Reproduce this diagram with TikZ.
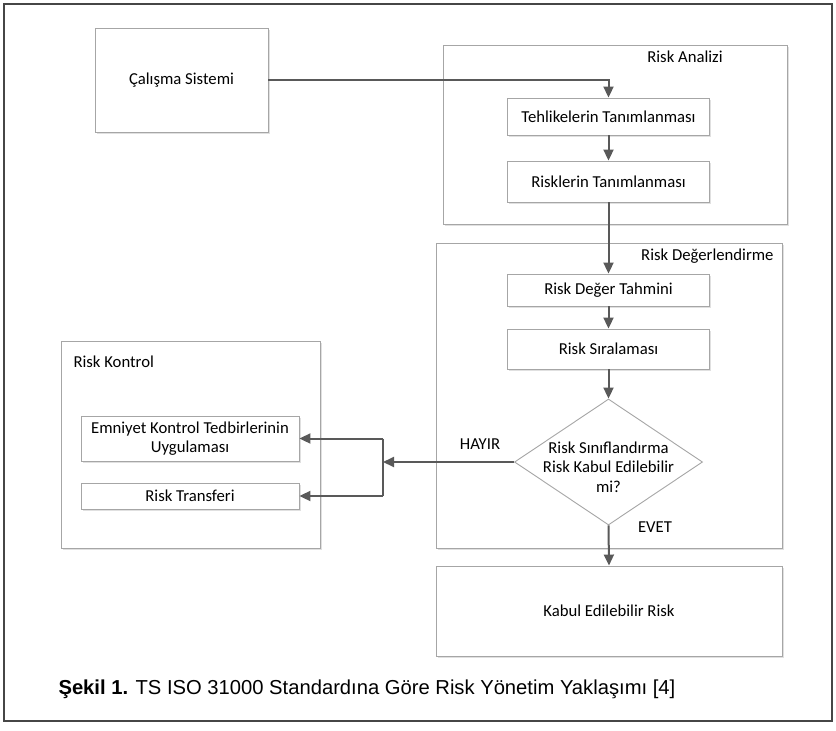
\documentclass[tikz,border=0pt]{standalone}
\usepackage{fontspec}
\setmainfont{Carlito}
\newfontfamily\capfont{Liberation Sans}
\usetikzlibrary{arrows.meta,shapes.geometric,shadows}
\definecolor{boxgray}{RGB}{166,166,166}
\definecolor{arrowgray}{RGB}{89,89,89}
\definecolor{framegray}{RGB}{70,70,70}
\begin{document}
\begin{tikzpicture}[x=1pt,y=-1pt,
  txt/.style={font=\fontsize{16.7}{19.5}\selectfont, text=black},
  box/.style={draw=boxgray, line width=0.9pt, fill=white, inner sep=0pt, txt,
    drop shadow={shadow xshift=1.5pt, shadow yshift=-1.5pt, fill=black, opacity=0.12}},
  cont/.style={draw=boxgray, line width=0.9pt, fill=white, inner sep=0pt,
    drop shadow={shadow xshift=1.5pt, shadow yshift=-1.5pt, fill=black, opacity=0.12}},
  arr/.style={draw=arrowgray, line width=2pt, -{Triangle[length=11pt,width=10pt]}},
  ln/.style={draw=arrowgray, line width=2pt}]
\useasboundingbox (0,0) rectangle (836,731);
\draw[framegray, line width=1.3pt] (4,4) rectangle (832,721);

% containers
\node[cont, minimum width=344pt, minimum height=179pt] (ra) at (615,134.5) {};
\node[txt] (ralabel) at (685,57) {Risk Analizi};
\node[cont, minimum width=346pt, minimum height=305pt] (rd) at (609,395.5) {};
\node[txt, anchor=east] (rdlabel) at (777,256) {Risk Değerlendirme};
\node[cont, minimum width=259pt, minimum height=207pt] (rk) at (190.5,444.5) {};
\node[txt, anchor=west] (rklabel) at (70,362) {Risk Kontrol};

% boxes
\node[box, minimum width=173pt, minimum height=104pt] (cs) at (181.5,80) {Çalışma Sistemi};
\node[box, minimum width=202pt, minimum height=37pt] (th) at (608.5,116.5) {Tehlikelerin Tanımlanması};
\node[box, minimum width=202pt, minimum height=41pt] (rt) at (608.5,181.5) {Risklerin Tanımlanması};
\node[box, minimum width=202pt, minimum height=32pt] (rdt) at (608.5,290) {Risk Değer Tahmini};
\node[box, minimum width=202pt, minimum height=40pt] (rs) at (608.5,349) {Risk Sıralaması};
\node[draw=boxgray, line width=0.9pt, fill=white, shape=diamond, inner sep=0pt,
  minimum width=188pt, minimum height=126pt] (dm) at (608.5,462) {};
\node[txt, align=center] (dmtext) at (608.5,467) {Risk Sınıflandırma\\Risk Kabul Edilebilir\\mi?};
\node[box, minimum width=218pt, minimum height=45pt, align=center] (em) at (190,438.5) {Emniyet Kontrol Tedbirlerinin\\Uygulaması};
\node[box, minimum width=218pt, minimum height=26pt] (tr) at (190,496) {Risk Transferi};
\node[box, minimum width=346pt, minimum height=90pt] (kb) at (609,611) {Kabul Edilebilir Risk};

% labels
\node[txt] (hayir) at (480,444) {HAYIR};
\node[txt] (evet) at (655,527) {EVET};

% connectors
\coordinate (j) at (383,462);
\coordinate (jt) at (383,438.5);
\coordinate (jb) at (383,496);
\draw[arr] (cs.east) -| (th.north);
\draw[arr] (th.south) -- (rt.north);
\draw[arr] (rt.south) -- (rdt.north);
\draw[arr] (rdt.south) -- (rs.north);
\draw[arr] (rs.south) -- (dm.north);
\draw[arr] (dm.west) -- (j);
\draw[ln] (jt) -- (jb);
\draw[arr] (jt) -- (em.east);
\draw[arr] (jb) -- (tr.east);
\draw[arr] (dm.south) -- (kb.north);

% caption
\node[anchor=west, font=\capfont\fontsize{20.2}{24}\selectfont] (cap) at (55,689) {\textbf{Şekil 1.} TS ISO 31000 Standardına Göre Risk Yönetim Yaklaşımı [4]};
\end{tikzpicture}
\end{document}
